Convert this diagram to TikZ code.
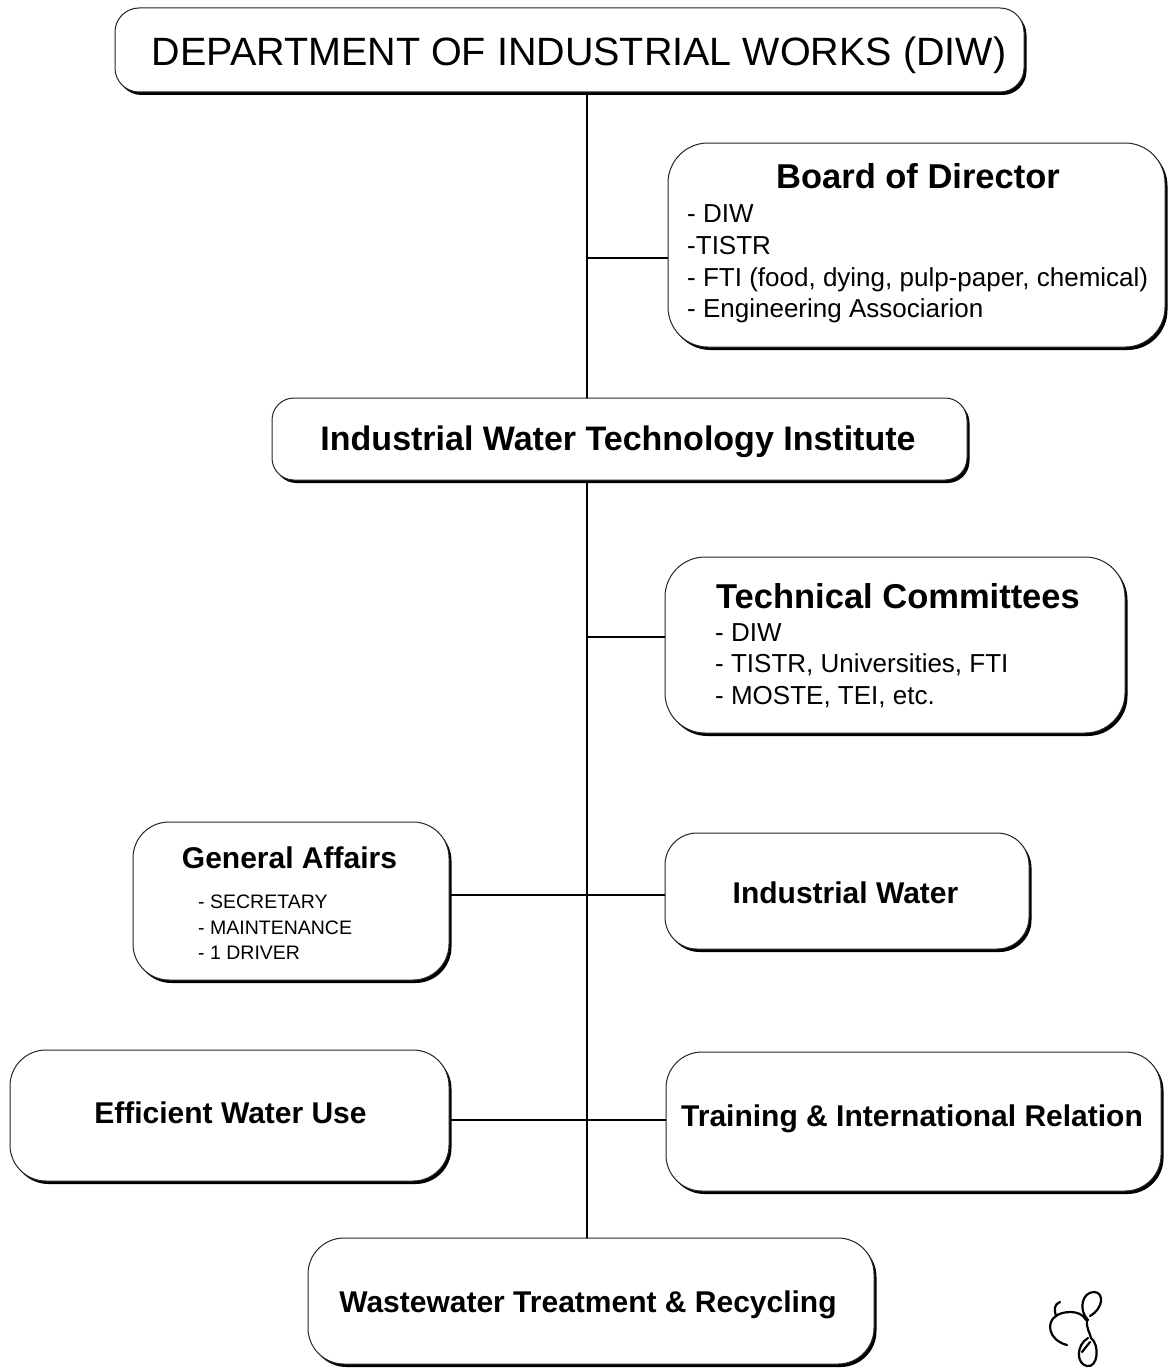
\documentclass[tikz,border=0pt]{standalone}
\usepackage{fontspec}
\setmainfont{Liberation Sans}
\usetikzlibrary{shadows}
\newcommand{\myfs}[1]{\fontsize{#1}{#1}\selectfont}
\begin{document}
\begin{tikzpicture}[x=1pt,y=-1pt,
  orgbox/.style={draw=black!85, line width=1pt, fill=white, rounded corners=36pt,
     inner sep=0pt, general shadow={fill=black, shadow xshift=2.5pt, shadow yshift=-3pt}},
  conn/.style={draw=black, line width=1.3pt},
  ttl/.style={inner sep=0pt, anchor=base, font=\bfseries},
  itm/.style={inner sep=0pt, anchor=base west}]
\useasboundingbox (0,0) rectangle (1169,1370);

% boxes
\node[orgbox, rounded corners=24pt, minimum width=909pt, minimum height=84pt] (diw) at (569.5,50) {};
\node[orgbox, rounded corners=40pt, minimum width=497pt, minimum height=204pt] (board) at (916.5,245) {};
\node[orgbox, rounded corners=22pt, minimum width=695pt, minimum height=82pt] (iwti) at (619.5,439) {};
\node[orgbox, rounded corners=40pt, minimum width=460pt, minimum height=176pt] (tech) at (895,645) {};
\node[orgbox, minimum width=316pt, minimum height=158pt] (ga) at (291,901) {};
\node[orgbox, rounded corners=32pt, minimum width=364pt, minimum height=116pt] (iw) at (847,891) {};
\node[orgbox, minimum width=439pt, minimum height=131pt] (ewu) at (229.5,1115.5) {};
\node[orgbox, minimum width=495pt, minimum height=139pt] (trn) at (913.5,1121.5) {};
\node[orgbox, minimum width=566pt, minimum height=126pt] (wtr) at (591,1301) {};

% texts
\node[ttl, font=\mdseries] (diwt) at (579,66) {\myfs{39.5}DEPARTMENT OF INDUSTRIAL WORKS (DIW)};

\node[ttl] (boardt) at (918,188) {\myfs{34.5}Board of Director};
\node[itm] (b1) at (687,222) {\myfs{26}- DIW};
\node[itm] (b2) at (687,254) {\myfs{26}-TISTR};
\node[itm] (b3) at (687,286) {\myfs{26}- FTI (food, dying, pulp-paper, chemical)};
\node[itm] (b4) at (687,317) {\myfs{26}- Engineering Associarion};

\node[ttl] (iwtit) at (618,450) {\myfs{34}Industrial Water Technology Institute};

\node[ttl] (techt) at (898,608) {\myfs{34.5}Technical Committees};
\node[itm] (t1) at (715,641) {\myfs{26}- DIW};
\node[itm] (t2) at (715,672) {\myfs{26}- TISTR, Universities, FTI};
\node[itm] (t3) at (715,704) {\myfs{26}- MOSTE, TEI, etc.};

\node[ttl] (gat) at (289.5,868) {\myfs{30}General Affairs};
\node[itm] (g1) at (198,908) {\myfs{19.5}- SECRETARY};
\node[itm] (g2) at (198,934) {\myfs{19.5}- MAINTENANCE};
\node[itm] (g3) at (198,959) {\myfs{19.5}- 1 DRIVER};

\node[ttl] (iwt) at (845.5,903) {\myfs{30}Industrial Water};
\node[ttl] (ewut) at (230.5,1123) {\myfs{30}Efficient Water Use};
\node[ttl] (trnt) at (912,1126) {\myfs{30}Training \& International Relation};
\node[ttl] (wtrt) at (588,1312) {\myfs{30}Wastewater Treatment \& Recycling};

% connectors
\coordinate (tx) at (587,0);
\coordinate (jb) at (587,258);
\coordinate (jt) at (587,637);
\coordinate (jg) at (587,895);
\coordinate (je) at (587,1120);
\draw[conn] (tx |- diw.south) -- (tx |- iwti.north);
\draw[conn] (jb) -- (jb -| board.west);
\draw[conn] (tx |- iwti.south) -- (tx |- wtr.north);
\draw[conn] (jt) -- (jt -| tech.west);
\draw[conn] (jg -| ga.east) -- (jg -| iw.west);
\draw[conn] (je -| ewu.east) -- (je -| trn.west);

% signature mark
\begin{scope}[line width=2.2pt, line cap=round]
\draw (1060,1302) .. controls (1054,1304) and (1054,1310) .. (1056,1316)
      .. controls (1060,1312) and (1080,1308) .. (1086,1320);
\draw (1056,1316) .. controls (1046,1322) and (1048,1340) .. (1067,1345);
\draw (1088,1320) .. controls (1078,1310) and (1082,1292) .. (1094,1292)
      .. controls (1104,1292) and (1104,1308) .. (1090,1316);
\draw (1087,1320) .. controls (1086,1328) and (1090,1333) .. (1091,1338);
\draw (1091,1338) .. controls (1100,1345) and (1098,1368) .. (1087,1366)
      .. controls (1076,1364) and (1076,1345) .. (1088,1338);
\draw (1082,1352) -- (1090,1342);
\end{scope}
\end{tikzpicture}
\end{document}
